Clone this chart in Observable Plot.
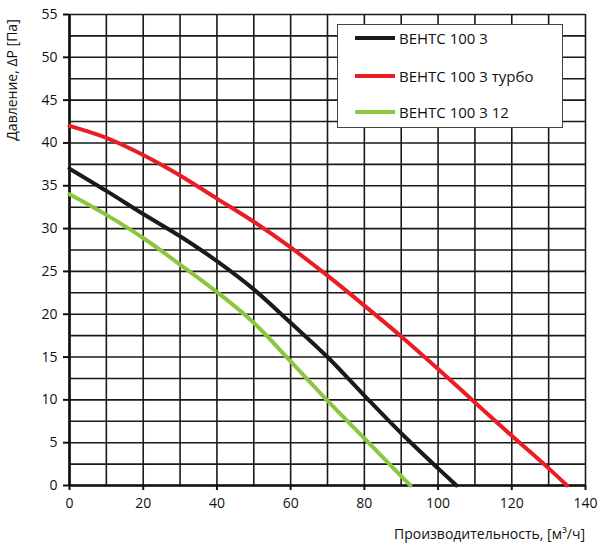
<!DOCTYPE html>
<html><head><meta charset="utf-8">
<script src="https://cdn.jsdelivr.net/npm/d3@7"></script>
<script src="https://cdn.jsdelivr.net/npm/@observablehq/plot@0.6"></script>
<style>
body{margin:0;background:#fff;font-family:"Open Sans",sans-serif;}
#wrap{position:relative;width:600px;height:551px;}
#legend{position:absolute;left:337px;top:24px;width:226px;height:104px;background:#fff;border:1.3px solid #444;box-sizing:border-box;font:15px "Open Sans",sans-serif;color:#111;}
.row{position:absolute;left:17px;display:flex;align-items:center;}
.sw{width:40px;height:4px;margin-right:4px;}
</style></head><body>
<div id="wrap"></div>
<script>
const seriesNames = ["ВЕНТС 100 3", "ВЕНТС 100 3 турбо", "ВЕНТС 100 3 12"];
const seriesColors = ["#1a1a1a", "#ec1c24", "#8cc63f"];
const flowBlack = [0,10,20,30,40,50,60,70,80,90,100,105];
const pressBlack = [37,34.4,31.7,29.1,26.2,22.9,19.0,15.0,10.5,6.1,2.0,0];
const flowRed = [0,10,20,30,40,50,60,70,80,90,100,110,120,130,135];
const pressRed = [42,40.6,38.6,36.2,33.5,30.8,27.8,24.5,21.0,17.4,13.6,9.7,5.8,2.0,0];
const flowGreen = [0,10,20,30,40,50,60,70,80,90,92.5];
const pressGreen = [34,31.6,28.9,25.8,22.6,19.0,14.5,9.9,5.5,1.1,0];
const xTicks = [0,20,40,60,80,100,120,140];
const yTicks = [0,5,10,15,20,25,30,35,40,45,50,55];
const xGrid = d3.range(0,141,10);
const yGrid = d3.range(0,55.01,2.5);
const xLabel = "Производительность, [м³/ч]";
const yLabel = "Давление, ΔP [Па]";

const flows = [flowBlack, flowRed, flowGreen];
const presses = [pressBlack, pressRed, pressGreen];
const data = [];
flows.forEach((f,i)=>f.forEach((x,j)=>data.push({s:seriesNames[i], x, y:presses[i][j]})));

const plot = Plot.plot({
  width:600, height:551,
  marginLeft:69, marginRight:15, marginTop:14, marginBottom:66,
  style:{fontFamily:"Open Sans, sans-serif", fontSize:"14px", color:"#111", background:"#fff"},
  x:{domain:[0,140]},
  y:{domain:[0,55]},
  color:{domain:seriesNames, range:seriesColors},
  marks:[
    Plot.ruleX(xGrid, {stroke:"#1a1a1a", strokeWidth:1.6}),
    Plot.ruleY(yGrid, {stroke:"#1a1a1a", strokeWidth:1.6}),
    Plot.ruleX([0], {stroke:"#111", strokeWidth:2.6}),
    Plot.ruleY([0], {stroke:"#111", strokeWidth:2.6}),
    Plot.axisX({ticks:xTicks, tickSize:5, tickPadding:8, strokeWidth:2, label:null, fontSize:14}),
    Plot.axisY({ticks:yTicks, tickSize:6, tickPadding:6, strokeWidth:2, label:null, fontSize:14}),
    Plot.line(data, {x:"x", y:"y", z:"s", stroke:"s", strokeWidth:4, curve:"monotone-x"})
  ]
});
const wrap = document.getElementById("wrap");
wrap.appendChild(plot);
const svg = d3.select(plot);
svg.append("text").attr("transform","translate(17,80) rotate(-90)").attr("text-anchor","middle")
  .attr("font-size",14).attr("fill","#111").text(yLabel);
svg.append("text").attr("x",585).attr("y",539).attr("text-anchor","end")
  .attr("font-size",14).attr("fill","#111").text(xLabel);

const legend = document.createElement("div");
legend.id = "legend";
const tops = [13, 51, 87];
seriesNames.forEach((n,i)=>{
  const r = document.createElement("div");
  r.className="row"; r.style.top = (tops[i]-12)+"px"; r.style.height="24px";
  r.innerHTML = `<div class="sw" style="background:${seriesColors[i]}"></div><span>${n}</span>`;
  legend.appendChild(r);
});
wrap.appendChild(legend);
</script>
</body></html>
